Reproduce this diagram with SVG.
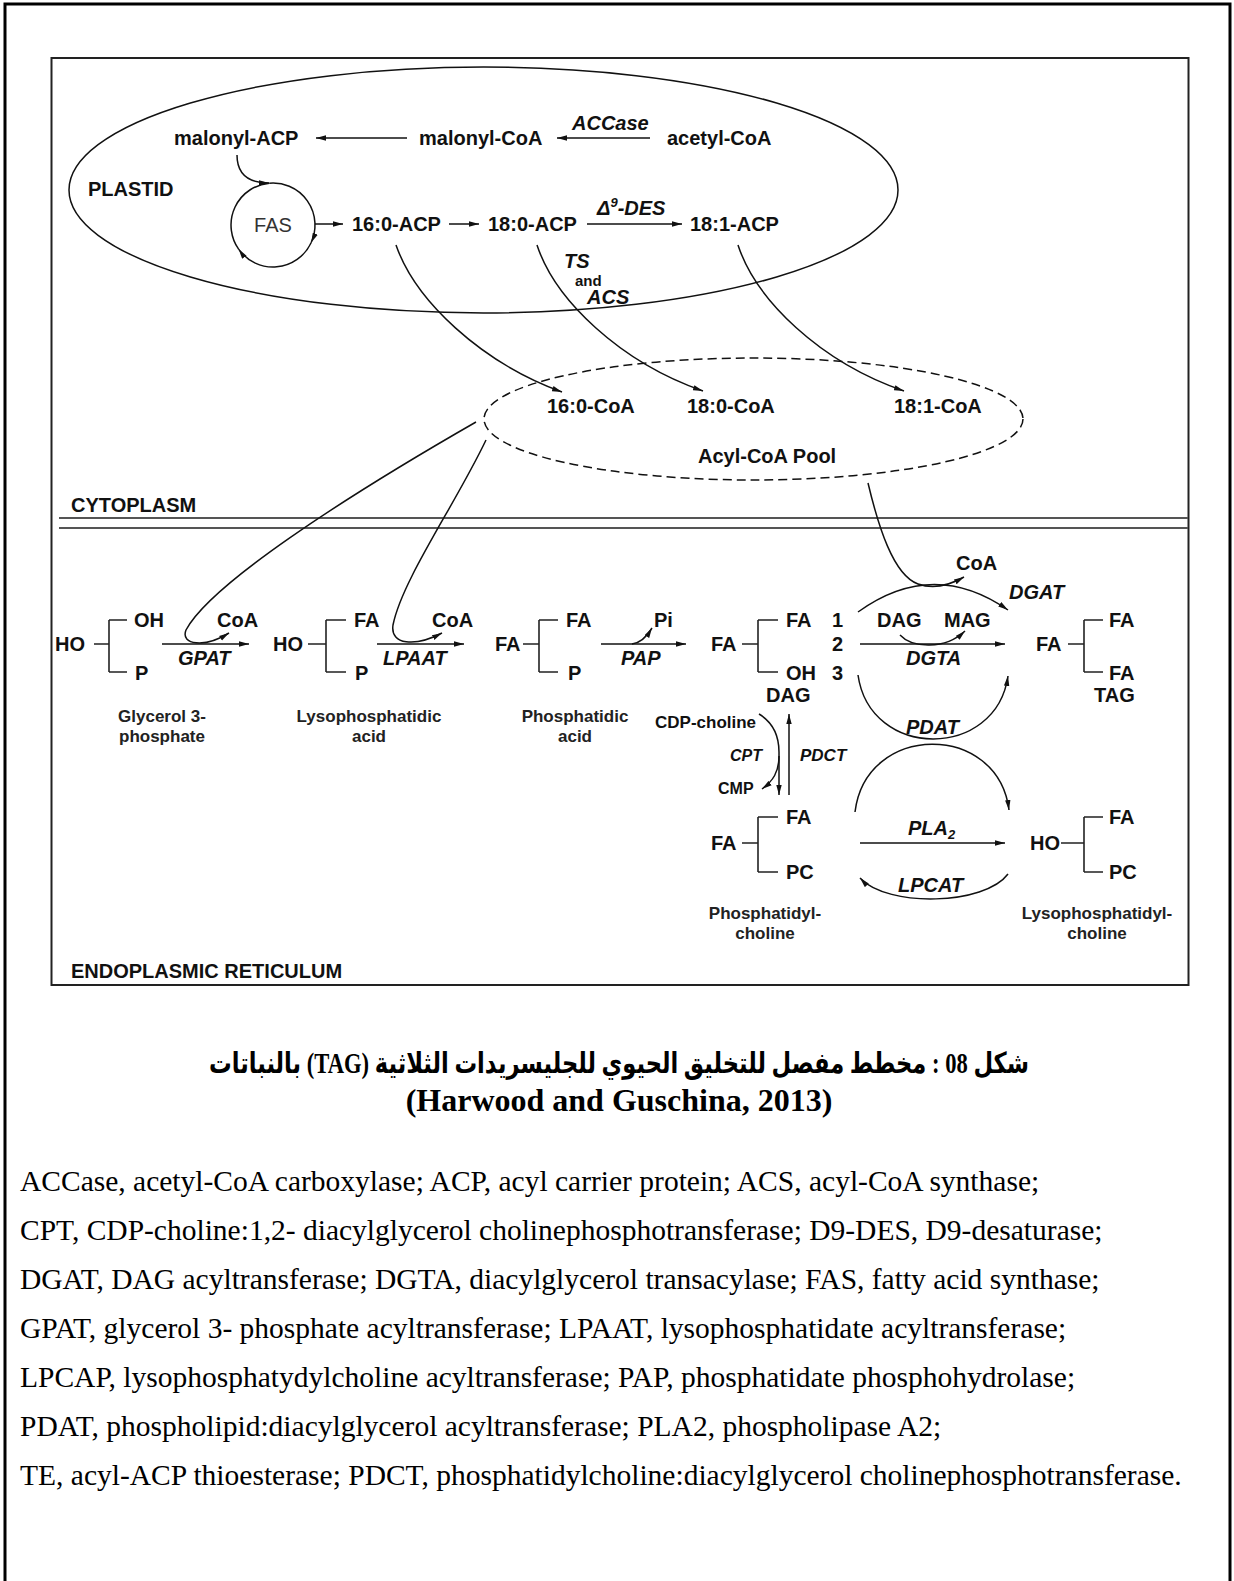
<svg xmlns="http://www.w3.org/2000/svg" width="1234" height="1581" viewBox="0 0 1234 1581">
<defs>
<style>
text{font-family:"Liberation Sans",Arial,sans-serif;fill:#111}
.b{font-weight:bold;font-size:20px}
.bi{font-weight:bold;font-style:italic;font-size:20px}
.rg{font-size:20px;fill:#333}
.nm{font-weight:bold;font-size:17px;fill:#222}
.s{font-weight:bold;font-size:16px}
.s15{font-weight:bold;font-size:15px}
.s17{font-weight:bold;font-size:17px}
.si{font-weight:bold;font-style:italic;font-size:16px}
.si17{font-weight:bold;font-style:italic;font-size:17px}
.ln{fill:none;stroke:#111;stroke-width:1.5}
.ar{fill:none;stroke:#111;stroke-width:1.5;marker-end:url(#ah)}
.br{fill:none;stroke:#222;stroke-width:1.6}
.foot{font-family:"Liberation Serif","Times New Roman",serif;font-size:29.5px;fill:#000}
.title{font-family:"Liberation Serif","DejaVu Sans",serif;font-weight:bold;font-size:29px;fill:#000}
.cite{font-family:"Liberation Serif","Times New Roman",serif;font-weight:bold;font-size:32px;fill:#000}
</style>
<marker id="ah" viewBox="0 0 10 6" refX="10" refY="3" markerWidth="10" markerHeight="6" markerUnits="userSpaceOnUse" orient="auto">
<path d="M0,0.3 L10,3 L0,5.7 Z" fill="#111"/>
</marker>
</defs>
<rect x="0" y="0" width="1234" height="1581" fill="#fff"/>
<rect x="5" y="4" width="1225" height="1590" fill="none" stroke="#000" stroke-width="3"/>
<rect x="51.5" y="58" width="1137" height="927" fill="none" stroke="#222" stroke-width="2"/>

<g id="plastid">
<ellipse cx="483.5" cy="190" rx="414.5" ry="123" class="ln"/>
<text class="b" x="88" y="196">PLASTID</text>
</g>
<g id="acyl-coa-pool">
<ellipse cx="753.5" cy="419" rx="269.5" ry="61" class="ln" stroke-dasharray="9 5"/>
<text class="b" x="698" y="463">Acyl-CoA Pool</text>
</g>
<g id="compartments">
<text class="b" x="71" y="512">CYTOPLASM</text>
<line x1="59" y1="518" x2="1188" y2="518" stroke="#555" stroke-width="2"/>
<line x1="59" y1="528" x2="1188" y2="528" stroke="#555" stroke-width="2"/>
<text class="b" x="71" y="978">ENDOPLASMIC RETICULUM</text>
</g>

<g id="malonyl-acp"><text class="b" x="174" y="145">malonyl-ACP</text></g>
<g id="malonyl-coa"><text class="b" x="419" y="145">malonyl-CoA</text></g>
<g id="acetyl-coa"><text class="b" x="667" y="145">acetyl-CoA</text></g>
<g id="fas"><text class="rg" x="273" y="232" text-anchor="middle">FAS</text></g>
<g id="c16-acp"><text class="b" x="352" y="231">16:0-ACP</text></g>
<g id="c180-acp"><text class="b" x="488" y="231">18:0-ACP</text></g>
<g id="c181-acp"><text class="b" x="690" y="231">18:1-ACP</text></g>
<g id="c16-coa"><text class="b" x="547" y="413">16:0-CoA</text></g>
<g id="c180-coa"><text class="b" x="687" y="413">18:0-CoA</text></g>
<g id="c181-coa"><text class="b" x="894" y="413">18:1-CoA</text></g>

<g id="g3p">
<text class="b" x="55" y="651">HO</text>
<path class="br" d="M94,644 H109 M109,620 V672 M109,620 H127 M109,672 H127"/>
<text class="b" x="134" y="627">OH</text>
<text class="b" x="135" y="680">P</text>
<text class="nm" x="162" y="722" text-anchor="middle">Glycerol 3-</text>
<text class="nm" x="162" y="742" text-anchor="middle">phosphate</text>
</g>
<g id="lpa">
<text class="b" x="273" y="651">HO</text>
<path class="br" d="M308,644 H326 M326,620 V672 M326,620 H346 M326,672 H346"/>
<text class="b" x="354" y="627">FA</text>
<text class="b" x="355" y="680">P</text>
<text class="nm" x="369" y="722" text-anchor="middle">Lysophosphatidic</text>
<text class="nm" x="369" y="742" text-anchor="middle">acid</text>
</g>
<g id="pa">
<text class="b" x="495" y="651">FA</text>
<path class="br" d="M523,644 H539 M539,620 V672 M539,620 H558 M539,672 H558"/>
<text class="b" x="566" y="627">FA</text>
<text class="b" x="568" y="680">P</text>
<text class="nm" x="575" y="722" text-anchor="middle">Phosphatidic</text>
<text class="nm" x="575" y="742" text-anchor="middle">acid</text>
</g>
<g id="dag">
<text class="b" x="711" y="651">FA</text>
<path class="br" d="M742,644 H758 M758,620 V672 M758,620 H778 M758,672 H778"/>
<text class="b" x="786" y="627">FA</text>
<text class="b" x="786" y="680">OH</text>
<text class="b" x="766" y="702">DAG</text>
<text class="b" x="832" y="627">1</text>
<text class="b" x="832" y="651">2</text>
<text class="b" x="832" y="680">3</text>
</g>
<g id="tag">
<text class="b" x="1036" y="651">FA</text>
<path class="br" d="M1068,644 H1084 M1084,620 V672 M1084,620 H1103 M1084,672 H1103"/>
<text class="b" x="1109" y="627">FA</text>
<text class="b" x="1109" y="680">FA</text>
<text class="b" x="1094" y="702">TAG</text>
</g>
<g id="pc">
<text class="b" x="711" y="850">FA</text>
<path class="br" d="M742,843 H758 M758,817 V872 M758,817 H778 M758,872 H778"/>
<text class="b" x="786" y="824">FA</text>
<text class="b" x="786" y="879">PC</text>
<text class="nm" x="765" y="919" text-anchor="middle">Phosphatidyl-</text>
<text class="nm" x="765" y="939" text-anchor="middle">choline</text>
</g>
<g id="lpc">
<text class="b" x="1030" y="850">HO</text>
<path class="br" d="M1061,843 H1084 M1084,817 V872 M1084,817 H1103 M1084,872 H1103"/>
<text class="b" x="1109" y="824">FA</text>
<text class="b" x="1109" y="879">PC</text>
<text class="nm" x="1097" y="919" text-anchor="middle">Lysophosphatidyl-</text>
<text class="nm" x="1097" y="939" text-anchor="middle">choline</text>
</g>

<g id="connectors">
<path class="ar" d="M407,138 L316,138"/>
<path class="ar" d="M650,138 L557,138"/>
<path class="ar" d="M237,155 C237,174 248,183 269,183"/>
<path class="ln" d="M238.6,249.1 A42,42 0 0 1 269.3,183.2"/>
<path class="ar" d="M269.3,183.2 A42,42 0 0 1 311.1,242.7"/>
<path class="ar" d="M311.1,242.7 A42,42 0 0 1 238.6,249.1"/>
<path class="ar" d="M315,224 L343,224"/>
<path class="ar" d="M449,224 L479,224"/>
<path class="ar" d="M587,224 L682,224"/>
<path class="ar" d="M396,245 C415,300 480,362 562,392"/>
<path class="ar" d="M537,245 C555,300 620,362 703,391"/>
<path class="ar" d="M738,245 C756,300 820,362 904,391"/>
<path class="ar" d="M476,422 C340,500 210,585 186,630 C180,645 205,648 229,633"/>
<path class="ar" d="M486,440 C455,505 402,580 393,625 C390,645 415,647 442,633"/>
<path class="ar" d="M162,644 L249,644"/>
<path class="ar" d="M377,644 L464,644"/>
<path class="ar" d="M601,644 L686,644"/>
<path class="ar" d="M632,644 C640,643 646,638 652,628"/>
<path class="ar" d="M860,644 L1005,644"/>
<path class="ar" d="M900,635 C912,648 945,650 965,631"/>
<path class="ar" d="M858,612 Q933,558 1008,610"/>
<path class="ar" d="M868,483 C878,525 893,575 918,584 C935,590 950,585 964,577"/>
<path class="ar" d="M858,675 C870,760 996,760 1008,676"/>
<path class="ar" d="M855,812 C866,722 998,722 1009,810"/>
<path class="ar" d="M860,843 L1005,843"/>
<path class="ar" d="M1008,874 C985,905 888,908 860,878"/>
<path class="ar" d="M759,714 C772,722 779,735 779,752 L779,795"/>
<path class="ar" d="M779,756 C779,772 773,781 762,789"/>
<path class="ar" d="M789,795 L789,714"/>
</g>

<g id="labels">
<text class="bi" x="572" y="130">ACCase</text>
<text class="bi" x="597" y="215">Δ<tspan font-size="13" dy="-8">9</tspan><tspan dy="8">-DES</tspan></text>
<text class="bi" x="564" y="268">TS</text>
<text class="s15" x="575" y="286">and</text>
<text class="bi" x="587" y="304">ACS</text>
<text class="b" x="217" y="627">CoA</text>
<text class="bi" x="178" y="665">GPAT</text>
<text class="b" x="432" y="627">CoA</text>
<text class="bi" x="383" y="665">LPAAT</text>
<text class="b" x="654" y="627">Pi</text>
<text class="bi" x="621" y="665">PAP</text>
<text class="b" x="956" y="570">CoA</text>
<text class="bi" x="1009" y="599">DGAT</text>
<text class="b" x="877" y="627">DAG</text>
<text class="b" x="944" y="627">MAG</text>
<text class="bi" x="906" y="665">DGTA</text>
<text class="bi" x="906" y="734">PDAT</text>
<text class="s17" x="655" y="728">CDP-choline</text>
<text class="si" x="730" y="761">CPT</text>
<text class="si17" x="800" y="761">PDCT</text>
<text class="s" x="718" y="794">CMP</text>
<text class="bi" x="908" y="835">PLA<tspan font-size="13" dy="4">2</tspan></text>
<text class="bi" x="898" y="892">LPCAT</text>
</g>

<g id="caption">
<text class="title" x="619" y="1073" text-anchor="middle" direction="rtl" textLength="820" lengthAdjust="spacingAndGlyphs">شكل 08 : مخطط مفصل للتخليق الحيوي للجليسريدات الثلاثية (TAG) بالنباتات</text>
<text class="cite" x="619" y="1111" text-anchor="middle">(Harwood and Guschina, 2013)</text>
</g>
<g id="footer">
<text class="foot" x="20" y="1191">ACCase, acetyl-CoA carboxylase; ACP, acyl carrier protein; ACS, acyl-CoA synthase;</text>
<text class="foot" x="20" y="1240">CPT, CDP-choline:1,2- diacylglycerol cholinephosphotransferase; D9-DES, D9-desaturase;</text>
<text class="foot" x="20" y="1289">DGAT, DAG acyltransferase; DGTA, diacylglycerol transacylase; FAS, fatty acid synthase;</text>
<text class="foot" x="20" y="1338">GPAT, glycerol 3- phosphate acyltransferase; LPAAT, lysophosphatidate acyltransferase;</text>
<text class="foot" x="20" y="1387">LPCAP, lysophosphatydylcholine acyltransferase; PAP, phosphatidate phosphohydrolase;</text>
<text class="foot" x="20" y="1436">PDAT, phospholipid:diacylglycerol acyltransferase; PLA2, phospholipase A2;</text>
<text class="foot" x="20" y="1485">TE, acyl-ACP thioesterase; PDCT, phosphatidylcholine:diacylglycerol cholinephosphotransferase.</text>
</g>
</svg>
